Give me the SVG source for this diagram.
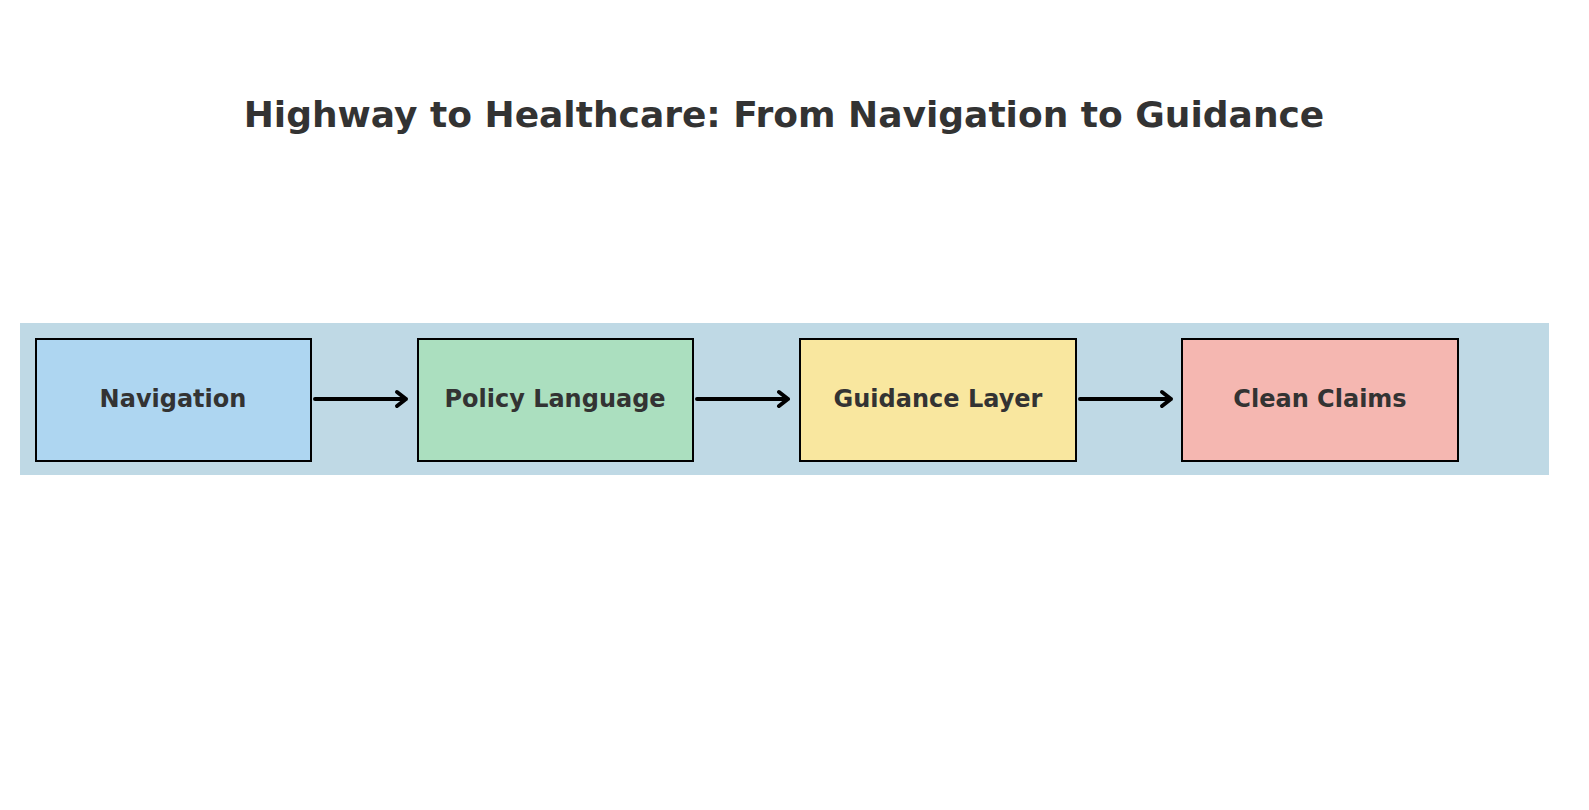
<svg xmlns="http://www.w3.org/2000/svg" width="1589" height="810" viewBox="0 0 1589 810">
<style>
.t{font-family:"DejaVu Sans",sans-serif;font-weight:bold;fill:#333;text-anchor:middle}
.b{stroke:#000;stroke-width:2}
.c{stroke:#000;stroke-width:4;fill:none;stroke-linecap:round;stroke-linejoin:round}
</style>
<rect width="1589" height="810" fill="#fff"/>
<text class="t" x="784" y="127" font-size="36">Highway to Healthcare: From Navigation to Guidance</text>
<rect x="20" y="323" width="1529" height="152" fill="#bfd9e5"/>
<g id="n1"><rect class="b" x="36" y="339" width="275" height="122" fill="#aed6f1"/><text class="t" x="173" y="407" font-size="24">Navigation</text></g>
<g id="n2"><rect class="b" x="418" y="339" width="275" height="122" fill="#abdfbf"/><text class="t" x="555" y="407" font-size="24">Policy Language</text></g>
<g id="n3"><rect class="b" x="800" y="339" width="276" height="122" fill="#f9e79f"/><text class="t" x="938" y="407" font-size="24">Guidance Layer</text></g>
<g id="n4"><rect class="b" x="1182" y="339" width="276" height="122" fill="#f5b7b1"/><text class="t" x="1320" y="407" font-size="24">Clean Claims</text></g>
<g id="connectors">
<path class="c" d="M315 399H406M397 392L406 399L397 406"/>
<path class="c" d="M697 399H788M779 392L788 399L779 406"/>
<path class="c" d="M1080 399H1171M1162 392L1171 399L1162 406"/>
</g>
</svg>
